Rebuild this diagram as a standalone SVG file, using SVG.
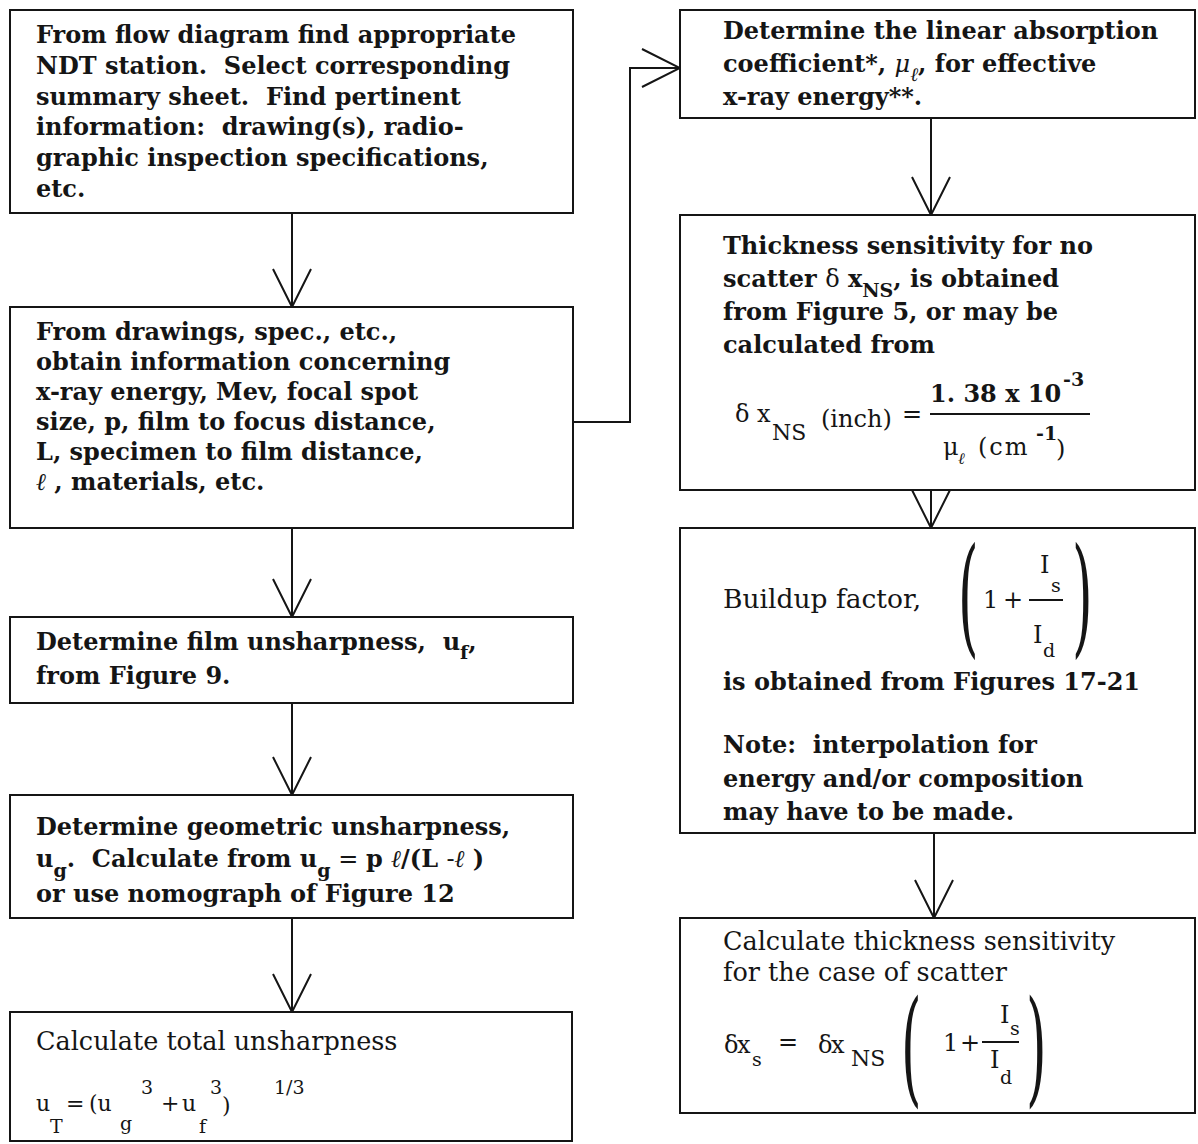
<svg xmlns="http://www.w3.org/2000/svg" width="1198" height="1144" viewBox="0 0 1198 1144">
<defs>
<style>
.bx{fill:#fff;stroke:#151515;stroke-width:2}
.c{fill:none;stroke:#151515;stroke-width:2}
text{font-family:"DejaVu Serif","Liberation Serif",serif;fill:#151515}
.t{font-size:24px;font-weight:bold}
.n{font-size:24px;font-weight:normal}
.m{font-size:22px;font-weight:normal}
.r{font-size:25.5px;font-weight:normal}
.s{font-size:19px;font-weight:bold}
.sn{font-size:19px;font-weight:normal}
.i{font-style:italic}
.p{font-size:44px;font-weight:normal}
</style>
<marker id="v" viewBox="0 0 40 40" refX="39" refY="20" markerWidth="40" markerHeight="40" markerUnits="userSpaceOnUse" orient="auto">
<path d="M1,1 L39,20 L1,39" fill="none" stroke="#151515" stroke-width="2"/>
</marker>
</defs>
<rect width="1198" height="1144" fill="#fff"/>

<g id="connectors">
<path class="c" d="M292,213 V307" marker-end="url(#v)"/>
<path class="c" d="M292,528 V617" marker-end="url(#v)"/>
<path class="c" d="M292,703 V795" marker-end="url(#v)"/>
<path class="c" d="M292,918 V1012" marker-end="url(#v)"/>
<path class="c" d="M573,422 H630 V68 H680" marker-end="url(#v)"/>
<path class="c" d="M931,118 V215" marker-end="url(#v)"/>
<path class="c" d="M931,490 V528" marker-end="url(#v)"/>
<path class="c" d="M934,833 V918" marker-end="url(#v)"/>
</g>

<g id="n1">
<rect class="bx" x="10" y="10" width="563" height="203"/>
<text class="t" x="36" y="43">From flow diagram find appropriate</text>
<text class="t" x="36" y="74" xml:space="preserve">NDT station.  Select corresponding</text>
<text class="t" x="36" y="105" xml:space="preserve">summary sheet.  Find pertinent</text>
<text class="t" x="36" y="135" xml:space="preserve">information:  drawing(s), radio-</text>
<text class="t" x="36" y="166">graphic inspection specifications,</text>
<text class="t" x="36" y="197">etc.</text>
</g>

<g id="n2">
<rect class="bx" x="10" y="307" width="563" height="221"/>
<text class="t" x="36" y="340">From drawings, spec., etc.,</text>
<text class="t" x="36" y="370">obtain information concerning</text>
<text class="t" x="36" y="400">x-ray energy, Mev, focal spot</text>
<text class="t" x="36" y="430">size, p, film to focus distance,</text>
<text class="t" x="36" y="460">L, specimen to film distance,</text>
<text class="t" x="36" y="490"><tspan class="n i">ℓ</tspan> , materials, etc.</text>
</g>

<g id="n3">
<rect class="bx" x="10" y="617" width="563" height="86"/>
<text class="t" x="36" y="650" xml:space="preserve">Determine film unsharpness,  u<tspan class="s" dy="9">f</tspan><tspan dy="-9">,</tspan></text>
<text class="t" x="36" y="684">from Figure 9.</text>
</g>

<g id="n4">
<rect class="bx" x="10" y="795" width="563" height="123"/>
<text class="t" x="36" y="835">Determine geometric unsharpness,</text>
<text class="t" x="36" y="867" xml:space="preserve">u<tspan class="s" dy="10">g</tspan><tspan dy="-10">.  Calculate from u</tspan><tspan class="s" dy="10">g</tspan><tspan class="n" dy="-10"> = </tspan>p <tspan class="n i">ℓ</tspan>/(L <tspan class="n">-</tspan><tspan class="n i">ℓ</tspan> )</text>
<text class="t" x="36" y="902">or use nomograph of Figure 12</text>
</g>

<g id="n5">
<rect class="bx" x="10" y="1012" width="562" height="129"/>
<text class="r" x="36" y="1050">Calculate total unsharpness</text>
<text class="m" x="36" y="1111">u</text>
<text class="sn" x="50" y="1133">T</text>
<text class="m" x="66" y="1111">=</text>
<text class="m" x="89" y="1111">(u</text>
<text class="sn" x="120" y="1130">g</text>
<text class="sn" x="141" y="1094">3</text>
<text class="m" x="161" y="1111">+</text>
<text class="m" x="182" y="1111">u</text>
<text class="sn" x="199" y="1133">f</text>
<text class="sn" x="210" y="1094">3</text>
<text class="m" x="222" y="1113">)</text>
<text class="sn" x="274" y="1094">1/3</text>
</g>

<g id="n6">
<rect class="bx" x="680" y="10" width="515" height="108"/>
<text class="t" x="723" y="39">Determine the linear absorption</text>
<text class="t" x="723" y="72">coefficient*, <tspan class="n i">μ</tspan><tspan class="sn i" dy="9">ℓ</tspan><tspan dy="-9">, for effective</tspan></text>
<text class="t" x="723" y="105">x-ray energy**.</text>
</g>

<g id="n7">
<rect class="bx" x="680" y="215" width="515" height="275"/>
<text class="t" x="723" y="254">Thickness sensitivity for no</text>
<text class="t" x="723" y="287">scatter <tspan class="n">δ</tspan> x<tspan class="s" dy="10">NS</tspan><tspan dy="-10">, is obtained</tspan></text>
<text class="t" x="723" y="320">from Figure 5, or may be</text>
<text class="t" x="723" y="353">calculated from</text>
<text class="n" x="735" y="422">δ</text>
<text class="n" x="757" y="422">x</text>
<text class="n" x="772" y="440" style="font-size:22px">NS</text>
<text class="n" x="821" y="427">(inch)</text>
<text class="n" x="902" y="422">=</text>
<text class="t" x="930" y="402">1. 38 x 10</text>
<text class="s" x="1063" y="386">-3</text>
<line class="c" x1="930" y1="414" x2="1090" y2="414"/>
<text class="n" x="943" y="455">μ</text>
<text class="sn i" x="958" y="464" style="font-size:16px">ℓ</text>
<text class="n" x="978" y="455" style="letter-spacing:2px">(cm</text>
<text class="s" x="1036" y="440">-1</text>
<text class="n" x="1056" y="457">)</text>
</g>

<g id="n8">
<rect class="bx" x="680" y="528" width="515" height="305"/>
<text class="r" x="723" y="608" style="font-size:26.5px">Buildup factor,</text>
<text class="p" transform="translate(958,640) scale(1.2,2.95)">(</text>
<text class="n" x="983" y="608">1</text>
<text class="n" x="1003" y="608">+</text>
<line class="c" x1="1029" y1="600" x2="1063" y2="600"/>
<text class="n" x="1040" y="573">I</text>
<text class="sn" x="1051" y="592">s</text>
<text class="n" x="1033" y="643">I</text>
<text class="sn" x="1043" y="657">d</text>
<text class="p" transform="translate(1072,640) scale(1.2,2.95)">)</text>
<text class="t" x="723" y="690">is obtained from Figures 17-21</text>
<text class="t" x="723" y="753" xml:space="preserve">Note:  interpolation for</text>
<text class="t" x="723" y="787">energy and/or composition</text>
<text class="t" x="723" y="820">may have to be made.</text>
</g>

<g id="n9">
<rect class="bx" x="680" y="918" width="515" height="195"/>
<text class="r" x="723" y="950">Calculate thickness sensitivity</text>
<text class="r" x="723" y="981">for the case of scatter</text>
<text class="n" x="724" y="1053">δ</text>
<text class="n" x="737" y="1053">x</text>
<text class="sn" x="752" y="1066">s</text>
<text class="n" x="778" y="1050">=</text>
<text class="n" x="818" y="1053">δ</text>
<text class="n" x="831" y="1053">x</text>
<text class="sn" x="851" y="1066" style="font-size:22px">NS</text>
<text class="p" transform="translate(901,1090) scale(1.2,2.85)">(</text>
<text class="n" x="943" y="1051">1</text>
<text class="n" x="960" y="1051">+</text>
<line class="c" x1="982" y1="1042" x2="1019" y2="1042"/>
<text class="n" x="1000" y="1023">I</text>
<text class="sn" x="1010" y="1035">s</text>
<text class="n" x="990" y="1068">I</text>
<text class="sn" x="1000" y="1084">d</text>
<text class="p" transform="translate(1026,1090) scale(1.2,2.85)">)</text>
</g>
</svg>
